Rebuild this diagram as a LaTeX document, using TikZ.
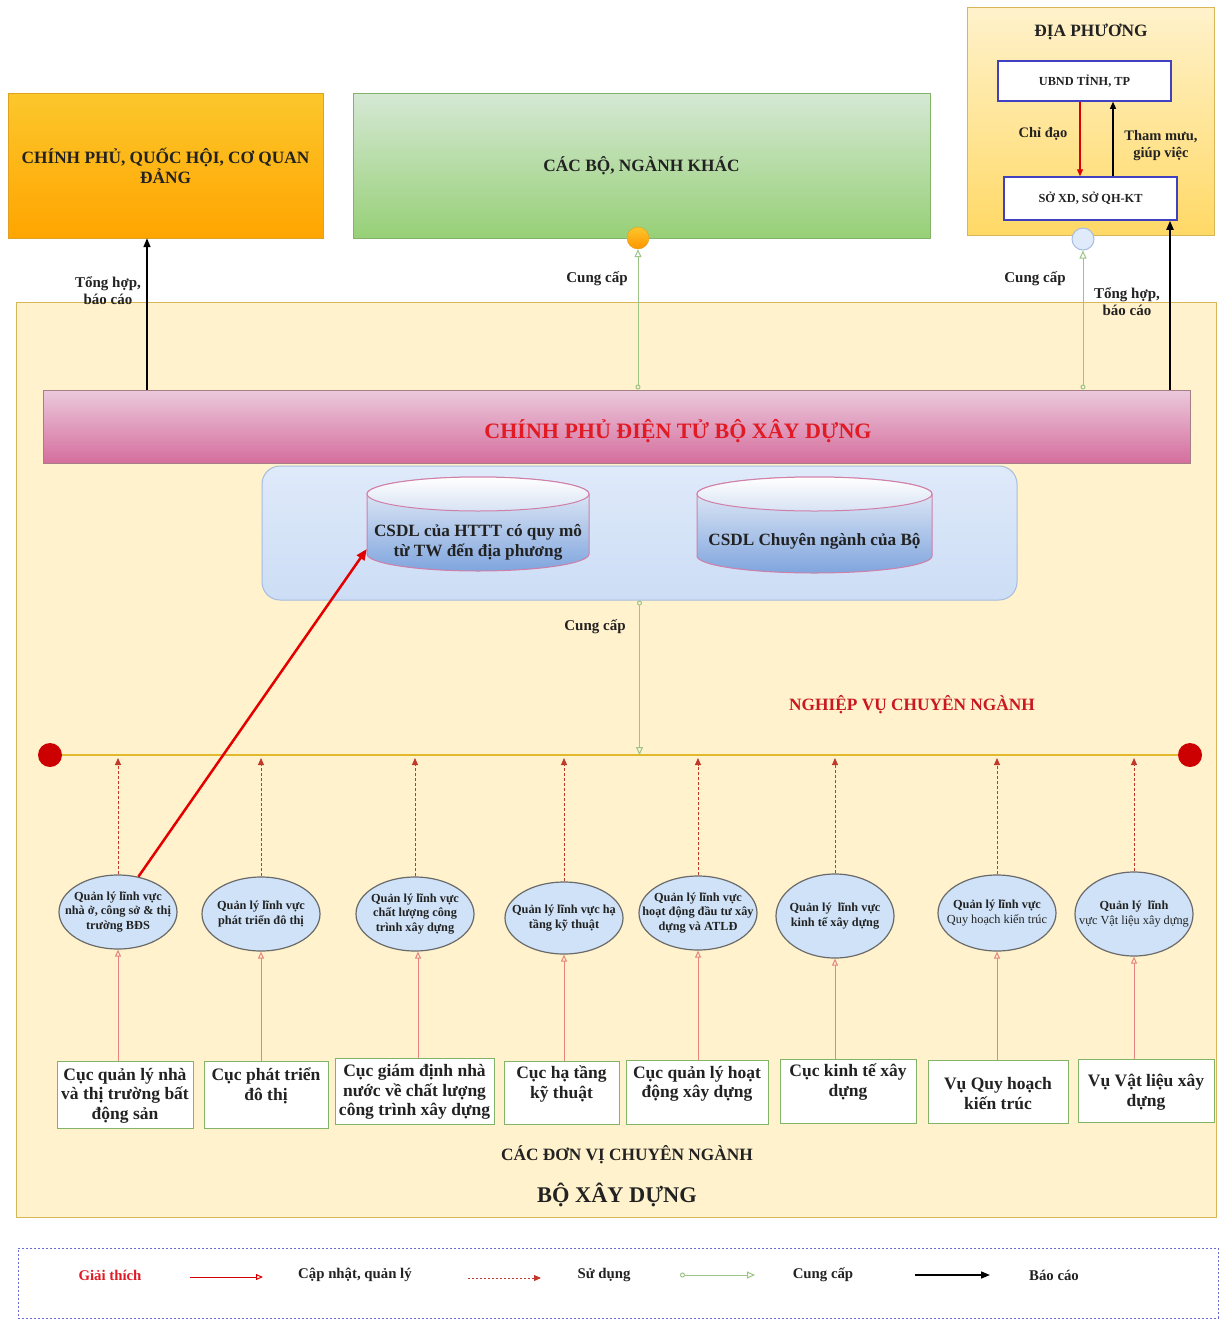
\documentclass[tikz,border=0pt]{standalone}
\usepackage{fontspec}
\setmainfont{Liberation Serif}
\usetikzlibrary{arrows.meta,shapes.geometric}
\definecolor{bgyellow}{HTML}{FFF2CC}
\definecolor{bgborder}{HTML}{D6B656}
\definecolor{orgtop}{HTML}{FCC72C}
\definecolor{orgbot}{HTML}{FFA500}
\definecolor{orgborder}{HTML}{E0A020}
\definecolor{grntop}{HTML}{D5E8D4}
\definecolor{grnbot}{HTML}{97D077}
\definecolor{grnborder}{HTML}{82B366}
\definecolor{pinktop}{HTML}{EBC9DC}
\definecolor{pinkbot}{HTML}{D56E9D}
\definecolor{pinkborder}{HTML}{A57E86}
\definecolor{titlered}{HTML}{E01B24}
\definecolor{contop}{HTML}{DFEAFA}
\definecolor{conbot}{HTML}{CCDDF5}
\definecolor{conborder}{HTML}{A6BCE0}
\definecolor{cyltop}{HTML}{EEF2F9}
\definecolor{cylbot}{HTML}{7FA5DE}
\definecolor{cylborder}{HTML}{D07FA8}
\definecolor{ellfill}{HTML}{CFE2F7}
\definecolor{ellborder}{HTML}{6A6A6A}
\definecolor{linegold}{HTML}{E3B92C}
\definecolor{dotred}{HTML}{CC0000}
\definecolor{updred}{HTML}{E58480}
\definecolor{usered}{HTML}{C0392B}
\definecolor{supgreen}{HTML}{9CC487}
\definecolor{purpleborder}{HTML}{4040C0}
\definecolor{dptop}{HTML}{FFF2CC}
\definecolor{dpbot}{HTML}{FFD966}
\definecolor{txt}{HTML}{222222}
\definecolor{legblue}{HTML}{6B6BD6}
\begin{document}
\begin{tikzpicture}[x=1pt,y=-1pt,
  lbl/.style={font=\bfseries\fontsize{15}{17}\selectfont, align=center, inner sep=0pt, text=txt},
  topbox/.style={draw, rectangle, inner sep=0pt, align=center, text=txt, font=\bfseries\fontsize{17.3}{20}\selectfont},
  ellnode/.style={ellipse, draw=ellborder, line width=1.2pt, fill=ellfill, inner sep=0pt, minimum width=118pt},
  elltext/.style={align=center, inner sep=0pt, text=txt, font=\bfseries\fontsize{12.3}{14.5}\selectfont},
  unitbox/.style={draw=grnborder, line width=1pt, fill=white, rectangle, inner sep=0pt},
  unittext/.style={align=center, inner sep=0pt, text=txt, font=\bfseries\fontsize{17.5}{19.5}\selectfont},
  smallbox/.style={draw=purpleborder, line width=1.5pt, fill=white, rectangle, inner sep=0pt, text=txt, font=\bfseries\fontsize{12.3}{14}\selectfont},
  report/.style={draw=black, line width=1.5pt, -{Triangle[length=9pt,width=7pt]}},
  supply/.style={draw=supgreen, line width=1pt, {Circle[open,length=5pt,width=5pt]}-{Triangle[open,length=8pt,width=7pt]}},
  usearrow/.style={draw=usered, line width=1pt, dash pattern=on 3pt off 2pt, -{Triangle[length=7pt,width=6pt]}},
  update/.style={draw=updred, line width=1pt, -{Triangle[open,length=7pt,width=6pt]}}
]
\useasboundingbox (0,0) rectangle (1219,1320);
\fill[white] (0,0) rectangle (1219,1320);

% top boxes
\node[topbox, draw=orgborder, top color=orgtop, bottom color=orgbot, minimum width=315pt, minimum height=145pt] (cp) at (165.5,165.5) {CHÍNH PHỦ, QUỐC HỘI, CƠ QUAN\\ĐẢNG};
\node[topbox, draw=grnborder, top color=grntop, bottom color=grnbot, minimum width=577pt, minimum height=145pt] (bn) at (641.5,165.5) {CÁC BỘ, NGÀNH KHÁC};
\node[draw=bgborder, top color=dptop, bottom color=dpbot, rectangle, minimum width=247pt, minimum height=228pt] (dp) at (1090.5,121) {};
\node[lbl, font=\bfseries\fontsize{17.3}{20}\selectfont] (dpt) at (1091,32) {ĐỊA PHƯƠNG};
\node[smallbox, minimum width=173pt, minimum height=40pt] (ubnd) at (1084.5,81) {UBND TỈNH, TP};
\node[smallbox, minimum width=173pt, minimum height=43pt] (soxd) at (1090.5,198.5) {SỞ XD, SỞ QH-KT};
\draw[draw=red!85!black, line width=1.2pt, -{Triangle[length=7pt,width=6pt]}] ([xshift=-4.5pt]ubnd.south) -- ([xshift=-10.5pt]soxd.north);
\draw[draw=black, line width=1.2pt, -{Triangle[length=7pt,width=6pt]}] ([xshift=22.5pt]soxd.north) -- ([xshift=28.5pt]ubnd.south);
\node[lbl, font=\bfseries\fontsize{14.5}{17}\selectfont] (chidao) at (1043,134) {Chỉ đạo};
\node[lbl, font=\bfseries\fontsize{14.5}{17}\selectfont] (thammuu) at (1161,146) {Tham mưu,\\giúp việc};

% big background
\node[draw=bgborder, fill=bgyellow, rectangle, minimum width=1200pt, minimum height=915pt] (bxd) at (616,759.5) {};

% circles
\node[circle, draw=orgborder, top color=orgtop, bottom color=orgbot!90!red, minimum size=22pt, inner sep=0pt] (oc) at (638,238) {};
\node[circle, draw=conborder, line width=1pt, fill=contop, minimum size=22pt, inner sep=0pt] (lc) at (1083,239) {};

% e-government bar
\node[draw=pinkborder, line width=1pt, top color=pinktop, bottom color=pinkbot, rectangle, minimum width=1147pt, minimum height=73pt] (cpdt) at (616.5,426.5) {};
\node[text=titlered, inner sep=0pt, font=\bfseries\fontsize{22}{26}\selectfont] (cpdtt) at (678,431) {CHÍNH PHỦ ĐIỆN TỬ BỘ XÂY DỰNG};

\coordinate (rxl) at (147,0);
\coordinate (rxr) at (1170,0);
\draw[report] (cpdt.north -| rxl) -- (cp.south -| rxl);
\draw[supply] (cpdt.north -| oc) -- (oc.south);
\draw[supply] (cpdt.north -| lc) -- (lc.south);
\draw[report, line width=2pt] (cpdt.north -| rxr) -- (soxd.south -| rxr);
\node[lbl] (l1) at (108,291) {Tổng hợp,\\báo cáo};
\node[lbl] (l2) at (597,279) {Cung cấp};
\node[lbl] (l3) at (1035,279) {Cung cấp};
\node[lbl] (l4) at (1127,302) {Tổng hợp,\\báo cáo};

% CSDL container
\node[draw=conborder, line width=1pt, top color=contop, bottom color=conbot, rounded corners=18pt, rectangle, minimum width=755pt, minimum height=134pt] (csdl) at (639.5,533) {};
% cylinder 1
\path[draw=cylborder, line width=1pt, top color=cyltop, bottom color=cylbot] (367,494) -- (367,554) arc[start angle=180,end angle=360,x radius=111pt,y radius=17pt] -- (589,494) arc[start angle=0,end angle=180,x radius=111pt,y radius=17pt] -- cycle;
\path[draw=cylborder, line width=1pt, top color=white, bottom color=cyltop!80!cylbot] (478,494) ellipse[x radius=111pt, y radius=17pt];
\node[unittext, font=\bfseries\fontsize{17.2}{20}\selectfont, minimum width=222pt] (cy1) at (478,542) {CSDL của HTTT có quy mô\\từ TW đến địa phương};
% cylinder 2
\path[draw=cylborder, line width=1pt, top color=cyltop, bottom color=cylbot] (697,494) -- (697,556) arc[start angle=180,end angle=360,x radius=117.5pt,y radius=17pt] -- (932,494) arc[start angle=0,end angle=180,x radius=117.5pt,y radius=17pt] -- cycle;
\path[draw=cylborder, line width=1pt, top color=white, bottom color=cyltop!80!cylbot] (814.5,494) ellipse[x radius=117.5pt, y radius=17pt];
\node[unittext, font=\bfseries\fontsize{17.2}{20}\selectfont] (cy2) at (814.5,541) {CSDL Chuyên ngành của Bộ};

% business line
\node[circle, fill=dotred, minimum size=24pt, inner sep=0pt] (dl) at (50,755) {};
\node[circle, fill=dotred, minimum size=24pt, inner sep=0pt] (dr) at (1190,755) {};
\draw[draw=linegold, line width=1.5pt] (dl) -- (dr);
\draw[supply] (csdl.south) -- (csdl.south |- dl);
\node[lbl] (l5) at (595,627) {Cung cấp};
\node[lbl, text=titlered!90!black, font=\bfseries\fontsize{17.3}{20}\selectfont] (nv) at (912,705) {NGHIỆP VỤ CHUYÊN NGÀNH};

% ellipses
\node[ellnode, minimum height=74pt] (e1) at (118,912) {};
\node[ellnode, minimum height=74pt] (e2) at (261,914) {};
\node[ellnode, minimum height=74pt] (e3) at (415,914) {};
\node[ellnode, minimum height=72pt] (e4) at (564,918) {};
\node[ellnode, minimum height=74pt] (e5) at (698,913) {};
\node[ellnode, minimum height=84pt] (e6) at (835,916) {};
\node[ellnode, minimum height=76pt] (e7) at (997,913) {};
\node[ellnode, minimum height=84pt] (e8) at (1134,914) {};
\node[elltext] (et1) at (e1) {Quản lý lĩnh vực\\nhà ở, công sở \& thị\\trường BĐS};
\node[elltext] (et2) at (e2) {Quản lý lĩnh vực\\phát triển đô thị};
\node[elltext] (et3) at (e3) {Quản lý lĩnh vực\\chất lượng công\\trình xây dựng};
\node[elltext] (et4) at (e4) {Quản lý lĩnh vực hạ\\tầng kỹ thuật};
\node[elltext] (et5) at (e5) {Quản lý lĩnh vực\\hoạt động đầu tư xây\\dựng và ATLĐ};
\node[elltext] (et6) at (e6) {Quản lý~~lĩnh vực\\kinh tế xây dựng};
\node[elltext] (et7) at (e7) {Quản lý lĩnh vực\\\mdseries Quy hoạch kiến trúc};
\node[elltext] (et8) at (e8) {Quản lý~~lĩnh\\\mdseries vực Vật liệu xây dựng};

\foreach \e in {e1,e2,e3,e4,e5,e6,e7,e8}{
  \draw[usearrow] (\e.north) -- ([yshift=-3pt]\e.north |- dl);
}
\draw[draw=red!90!black, line width=2.5pt, -{Triangle[length=11pt,width=9pt]}] (e1.60) -- ([yshift=-7pt]cy1.west);

% units
\node[unitbox, minimum width=136pt, minimum height=67pt] (b1) at (125,1094.5) {};
\node[unitbox, minimum width=124pt, minimum height=67pt] (b2) at (266,1094.5) {};
\node[unitbox, minimum width=159pt, minimum height=66pt] (b3) at (414.5,1091) {};
\node[unitbox, minimum width=115pt, minimum height=63pt] (b4) at (561.5,1092.5) {};
\node[unitbox, minimum width=142pt, minimum height=64pt] (b5) at (697,1092) {};
\node[unitbox, minimum width=136pt, minimum height=64pt] (b6) at (848,1091) {};
\node[unitbox, minimum width=140pt, minimum height=63pt] (b7) at (998,1091.5) {};
\node[unitbox, minimum width=136pt, minimum height=63pt] (b8) at (1146,1090.5) {};
\node[unittext] (t1) at (125,1095.5) {Cục quản lý nhà\\và thị trường bất\\động sản};
\node[unittext] (t2) at (266,1086) {Cục phát triển\\đô thị};
\node[unittext] (t3) at (414.5,1092) {Cục giám định nhà\\nước về chất lượng\\công trình xây dựng};
\node[unittext] (t4) at (561.5,1084) {Cục hạ tầng\\kỹ thuật};
\node[unittext] (t5) at (697,1084) {Cục quản lý hoạt\\động xây dựng};
\node[unittext] (t6) at (848,1082) {Cục kinh tế xây\\dựng};
\node[unittext] (t7) at (998,1093.5) {Vụ Quy hoạch\\kiến trúc};
\node[unittext] (t8) at (1146,1092) {Vụ Vật liệu xây\\dựng};
\draw[update] (e1.south |- b1.north) -- (e1.south);
\draw[update] (e2.south |- b2.north) -- (e2.south);
\draw[update] ([xshift=3pt]e3.south |- b3.north) -- ([xshift=3pt]e3.south);
\draw[update] (e4.south |- b4.north) -- (e4.south);
\draw[update] (e5.south |- b5.north) -- (e5.south);
\draw[update] (e6.south |- b6.north) -- (e6.south);
\draw[update] (e7.south |- b7.north) -- (e7.south);
\draw[update] (e8.south |- b8.north) -- (e8.south);

\node[lbl, font=\bfseries\fontsize{17.3}{20}\selectfont] (dv) at (627,1155) {CÁC ĐƠN VỊ CHUYÊN NGÀNH};
\node[lbl, font=\bfseries\fontsize{22.4}{26}\selectfont] (bxdt) at (617,1195) {BỘ XÂY DỰNG};

% legend
\node[draw=legblue, line width=1pt, dash pattern=on 2pt off 2pt, rectangle, minimum width=1200pt, minimum height=70pt] (lg) at (618,1283) {};
\node[lbl, text=titlered, font=\bfseries\fontsize{14.8}{17}\selectfont] (g0) at (110,1275) {Giải thích};
\coordinate (a1) at (190,1277); \coordinate (a2) at (263,1277);
\draw[draw=red!85!black, line width=1pt, -{Triangle[open,length=7pt,width=6pt]}] (a1) -- (a2);
\node[lbl, font=\bfseries\fontsize{14.8}{17}\selectfont] (g1) at (355,1275) {Cập nhật, quản lý};
\coordinate (a3) at (468,1278); \coordinate (a4) at (541,1278);
\draw[draw=usered, line width=1pt, dash pattern=on 2pt off 2pt, -{Triangle[length=7pt,width=6pt]}] (a3) -- (a4);
\node[lbl, font=\bfseries\fontsize{14.8}{17}\selectfont] (g2) at (604,1275) {Sử dụng};
\coordinate (a5) at (680,1275); \coordinate (a6) at (755,1275);
\draw[supply] (a5) -- (a6);
\node[lbl, font=\bfseries\fontsize{14.8}{17}\selectfont] (g3) at (823,1275) {Cung cấp};
\coordinate (a7) at (915,1275); \coordinate (a8) at (990,1275);
\draw[report] (a7) -- (a8);
\node[lbl, font=\bfseries\fontsize{14.8}{17}\selectfont] (g4) at (1054,1275) {Báo cáo};
\end{tikzpicture}
\end{document}
